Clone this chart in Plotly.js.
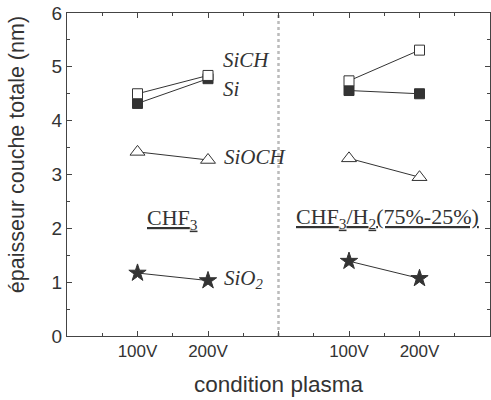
<!DOCTYPE html>
<html>
<head>
<meta charset="utf-8">
<script src="https://cdn.plot.ly/plotly-3.0.1.min.js"></script>
<style>html,body{margin:0;padding:0;background:#fff;}#chart{width:491px;height:400px;}</style>
</head>
<body>
<div id="chart"></div>
<script>
// x positions of the bias conditions on the axis (1,2 = CHF3 ; 4,5 = CHF3/H2)
var xCHF3 = [1, 2];
var xH2 = [4, 5];
var separatorX = 3;
var tickVals = [0, 1, 2, 3, 4, 5, 6];
var tickText = ['', '100V', '200V', '', '100V', '200V', ''];

// épaisseur couche totale (nm)
var siCH_CHF3 = [4.50, 4.84];
var siCH_H2 = [4.74, 5.31];
var si_CHF3 = [4.32, 4.78];
var si_H2 = [4.56, 4.50];
var siOCH_CHF3 = [3.42, 3.27];
var siOCH_H2 = [3.30, 2.95];
var siO2_CHF3 = [1.17, 1.03];
var siO2_H2 = [1.39, 1.07];

var dark = '#333333';
function tr(x, y, sym, fill, size) {
  return {
    x: x, y: y, type: 'scatter', mode: 'lines+markers', showlegend: false,
    line: {color: dark, width: 1},
    marker: {symbol: sym, size: size, color: fill, line: {color: dark, width: 1}}
  };
}
var data = [
  tr(xCHF3, si_CHF3, 'square', dark, 10),
  tr(xH2, si_H2, 'square', dark, 10),
  tr(xCHF3, siCH_CHF3, 'square', '#ffffff', 10),
  tr(xH2, siCH_H2, 'square', '#ffffff', 10),
  tr(xCHF3, siOCH_CHF3, 'triangle-up', '#ffffff', 13),
  tr(xH2, siOCH_H2, 'triangle-up', '#ffffff', 13),
  tr(xCHF3, siO2_CHF3, 'star', dark, 13),
  tr(xH2, siO2_H2, 'star', dark, 13)
];

var serifI = {family: 'Liberation Serif, Times New Roman, serif', size: 21, color: dark};
var layout = {
  width: 491, height: 400,
  margin: {l: 67, r: 1, t: 13, b: 64},
  paper_bgcolor: '#fff', plot_bgcolor: '#fff',
  font: {family: 'Liberation Sans, Arial, sans-serif', color: dark},
  xaxis: {
    range: [0, 6], tickmode: 'array', tickvals: tickVals, ticktext: tickText,
    ticks: 'inside', ticklen: 5, tickcolor: '#444', mirror: 'allticks',
    showline: true, linecolor: '#444', linewidth: 1, showgrid: false, zeroline: false,
    tickfont: {size: 17, color: dark},
    minor: {dtick: 0.5, tick0: 0, ticks: 'inside', ticklen: 3, tickcolor: '#444', showgrid: false},
    title: {text: 'condition plasma', font: {size: 22.5, color: dark}, standoff: 15}
  },
  yaxis: {
    range: [0, 6], dtick: 1, tick0: 0,
    ticks: 'inside', ticklen: 5, tickcolor: '#444', mirror: 'allticks',
    showline: true, linecolor: '#444', linewidth: 1, showgrid: false, zeroline: false,
    tickfont: {size: 19, color: dark},
    minor: {dtick: 0.5, ticks: 'inside', ticklen: 3, tickcolor: '#444', showgrid: false}
  },
  shapes: [{
    type: 'line', xref: 'x', yref: 'paper', x0: separatorX, x1: separatorX, y0: 0, y1: 1,
    line: {color: '#bbbbbb', width: 2.5, dash: 'dot'}, layer: 'below'
  }],
  annotations: [
    {xref: 'paper', yref: 'paper', x: -0.118, y: 0.56, textangle: -90, text: 'épaisseur couche totale (nm)',
     showarrow: false, xanchor: 'center', yanchor: 'middle', font: {size: 21.5, color: dark}},
    {xref: 'x', yref: 'y', x: 2.18, y: 5.13, xanchor: 'left', text: '<i>SiCH</i>', showarrow: false, font: serifI},
    {xref: 'x', yref: 'y', x: 2.18, y: 4.59, xanchor: 'left', text: '<i>Si</i>', showarrow: false, font: serifI},
    {xref: 'x', yref: 'y', x: 2.2, y: 3.33, xanchor: 'left', text: '<i>SiOCH</i>', showarrow: false, font: serifI},
    {xref: 'x', yref: 'y', x: 2.2, y: 1.06, xanchor: 'left', text: '<i>SiO<sub>2</sub></i>', showarrow: false, font: serifI},
    {xref: 'x', yref: 'y', x: 1.49, y: 2.17, text: '<u>CHF<sub>3</sub></u>', showarrow: false,
     font: {family: 'Liberation Serif, Times New Roman, serif', size: 22, color: dark}},
    {xref: 'x', yref: 'y', x: 4.55, y: 2.2, text: '<u>CHF<sub>3</sub>/H<sub>2</sub>(75%-25%)</u>', showarrow: false,
     font: {family: 'Liberation Serif, Times New Roman, serif', size: 22, color: dark}}
  ]
};
Plotly.newPlot('chart', data, layout, {displayModeBar: false, staticPlot: true});
</script>
</body>
</html>
